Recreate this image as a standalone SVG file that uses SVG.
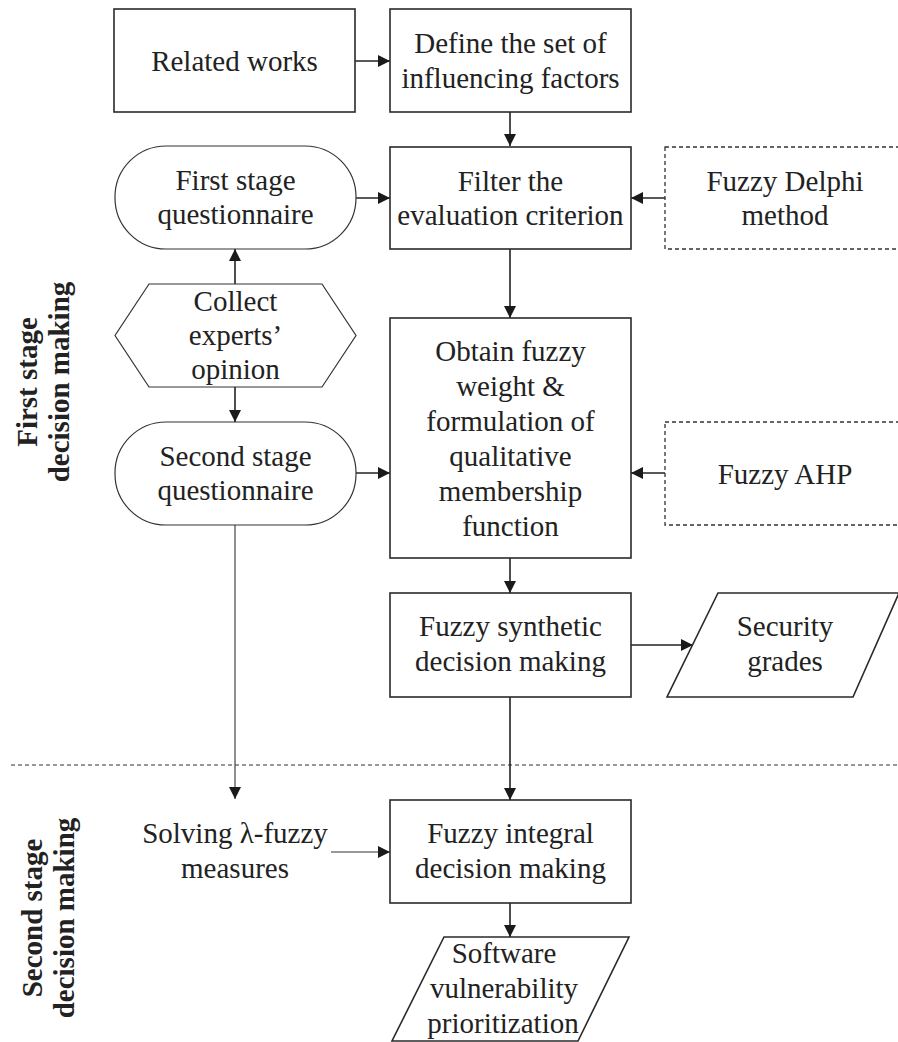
<svg xmlns="http://www.w3.org/2000/svg" width="898" height="1042" viewBox="0 0 898 1042" font-family="'Liberation Serif', Tinos, 'Times New Roman', Times, 'DejaVu Serif', serif">
  <style>
    .box { fill: #fff; stroke: #2a2a2a; stroke-width: 1.6; }
    .soft { fill: #fff; stroke: #333; stroke-width: 1.2; }
    .dash { fill: #fff; stroke: #333; stroke-width: 1.3; stroke-dasharray: 4 3; }
    .lbl { font-family: 'Liberation Serif', Tinos, 'Times New Roman', Times, 'DejaVu Serif', serif; font-size: 29px; fill: #222; text-anchor: middle; }
    .side { font-family: 'Liberation Serif', Tinos, 'Times New Roman', Times, 'DejaVu Serif', serif; font-size: 29px; font-weight: bold; fill: #222; text-anchor: middle; }
    .edge { fill: none; stroke: #222; stroke-width: 1.6; }
    .thin { fill: none; stroke: #333; stroke-width: 1.1; }
    .sep { fill: none; stroke: #333; stroke-width: 1.2; stroke-dasharray: 4 3; }
  </style>
  <defs>
    <marker id="arrow" markerUnits="userSpaceOnUse" markerWidth="13" markerHeight="13" refX="12" refY="6" orient="auto">
      <path d="M0,0 L12,6 L0,12 Z" fill="#1a1a1a"/>
    </marker>
  </defs>

  <rect width="898" height="1042" fill="#fff"/>

  <!-- stage separator -->
  <line class="sep" x1="11" y1="765" x2="898" y2="765"/>

  <!-- stage labels -->
  <g id="label-first-stage">
    <text class="side" transform="translate(37,382) rotate(-90)">First stage</text>
    <text class="side" transform="translate(69,382) rotate(-90)">decision making</text>
  </g>
  <g id="label-second-stage">
    <text class="side" transform="translate(42,918) rotate(-90)">Second stage</text>
    <text class="side" transform="translate(74,918) rotate(-90)">decision making</text>
  </g>

  <!-- connectors -->
  <g id="connectors">
    <line class="edge" x1="355" y1="61" x2="390" y2="61" marker-end="url(#arrow)"/>
    <line class="edge" x1="510" y1="112" x2="510" y2="146" marker-end="url(#arrow)"/>
    <line class="edge" x1="356" y1="198" x2="390" y2="198" marker-end="url(#arrow)"/>
    <line class="edge" x1="665" y1="198" x2="631" y2="198" marker-end="url(#arrow)"/>
    <line class="edge" x1="510" y1="249" x2="510" y2="318" marker-end="url(#arrow)"/>
    <line class="edge" x1="235" y1="284" x2="235" y2="249" marker-end="url(#arrow)"/>
    <line class="edge" x1="235" y1="387" x2="235" y2="422" marker-end="url(#arrow)"/>
    <line class="edge" x1="356" y1="473" x2="390" y2="473" marker-end="url(#arrow)"/>
    <line class="edge" x1="665" y1="473" x2="631" y2="473" marker-end="url(#arrow)"/>
    <line class="edge" x1="510" y1="558" x2="510" y2="593" marker-end="url(#arrow)"/>
    <line class="edge" x1="631" y1="645" x2="693" y2="645" marker-end="url(#arrow)"/>
    <line class="edge" x1="510" y1="697" x2="510" y2="800" marker-end="url(#arrow)"/>
    <line class="thin" x1="235" y1="525" x2="235" y2="799" marker-end="url(#arrow)"/>
    <line class="thin" x1="331" y1="852" x2="390" y2="852" marker-end="url(#arrow)"/>
    <line class="edge" x1="510" y1="903" x2="510" y2="937" marker-end="url(#arrow)"/>
  </g>

  <!-- nodes -->
  <g id="related-works">
    <rect class="box" x="114" y="9" width="241" height="103"/>
    <text class="lbl" x="234.5" y="70.5">Related works</text>
  </g>

  <g id="define-factors">
    <rect class="box" x="390" y="9" width="241" height="103"/>
    <text class="lbl" x="510.5" y="53">Define the set of</text>
    <text class="lbl" x="510.5" y="88">influencing factors</text>
  </g>

  <g id="first-questionnaire">
    <rect class="soft" x="115" y="146" width="241" height="103" rx="51" ry="51"/>
    <text class="lbl" x="235.5" y="190">First stage</text>
    <text class="lbl" x="235.5" y="224">questionnaire</text>
  </g>

  <g id="filter-criterion">
    <rect class="box" x="390" y="147" width="241" height="102"/>
    <text class="lbl" x="510.5" y="190.5">Filter the</text>
    <text class="lbl" x="510.5" y="225">evaluation criterion</text>
  </g>

  <g id="fuzzy-delphi">
    <rect class="dash" x="665" y="147" width="236" height="102"/>
    <text class="lbl" x="785" y="190.5">Fuzzy Delphi</text>
    <text class="lbl" x="785" y="225">method</text>
  </g>

  <g id="collect-opinion">
    <polygon class="soft" points="149,284 322,284 356,335.5 322,387 149,387 115,335.5"/>
    <text class="lbl" x="235.5" y="310.5">Collect</text>
    <text class="lbl" x="235.5" y="344.5">experts’</text>
    <text class="lbl" x="235.5" y="378.5">opinion</text>
  </g>

  <g id="second-questionnaire">
    <rect class="soft" x="115" y="422" width="241" height="103" rx="51" ry="51"/>
    <text class="lbl" x="235.5" y="466">Second stage</text>
    <text class="lbl" x="235.5" y="500">questionnaire</text>
  </g>

  <g id="fuzzy-weight">
    <rect class="box" x="390" y="318" width="241" height="240"/>
    <text class="lbl" x="510.5" y="360.5">Obtain fuzzy</text>
    <text class="lbl" x="510.5" y="395.5">weight &amp;</text>
    <text class="lbl" x="510.5" y="430.5">formulation of</text>
    <text class="lbl" x="510.5" y="465.5">qualitative</text>
    <text class="lbl" x="510.5" y="500.5">membership</text>
    <text class="lbl" x="510.5" y="535.5">function</text>
  </g>

  <g id="fuzzy-ahp">
    <rect class="dash" x="665" y="422" width="236" height="103"/>
    <text class="lbl" x="785" y="483.5">Fuzzy AHP</text>
  </g>

  <g id="synthetic-decision">
    <rect class="box" x="390" y="593" width="241" height="104"/>
    <text class="lbl" x="510.5" y="636">Fuzzy synthetic</text>
    <text class="lbl" x="510.5" y="671">decision making</text>
  </g>

  <g id="security-grades">
    <polygon class="box" points="718,593 899,593 853,697 667,697"/>
    <text class="lbl" x="785" y="636">Security</text>
    <text class="lbl" x="785" y="671">grades</text>
  </g>

  <g id="lambda-measures">
    <text class="lbl" x="235" y="843">Solving λ-fuzzy</text>
    <text class="lbl" x="235" y="878">measures</text>
  </g>

  <g id="integral-decision">
    <rect class="box" x="390" y="800" width="241" height="103"/>
    <text class="lbl" x="510.5" y="843">Fuzzy integral</text>
    <text class="lbl" x="510.5" y="878">decision making</text>
  </g>

  <g id="vulnerability-priority">
    <polygon class="box" points="444,937 629,937 578,1041 392,1041"/>
    <text class="lbl" x="504" y="963">Software</text>
    <text class="lbl" x="504" y="998">vulnerability</text>
    <text class="lbl" x="503" y="1033">prioritization</text>
  </g>
</svg>
